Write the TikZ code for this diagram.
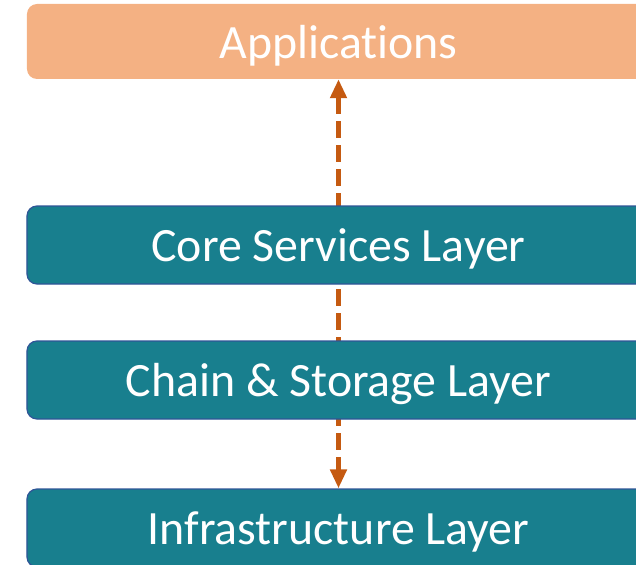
\documentclass[tikz,border=0pt]{standalone}
\usepackage{fontspec}
\setmainfont[RawFeature=-liga]{Carlito}
\usetikzlibrary{arrows.meta,backgrounds}
\definecolor{appfill}{HTML}{F4B183}
\definecolor{layerfill}{HTML}{187F8E}
\definecolor{layerline}{HTML}{2F5597}
\definecolor{linkcol}{HTML}{C55A11}
\begin{document}
\begin{tikzpicture}[x=1bp,y=-1bp,
  box/.style={rounded corners=10bp, minimum width=623bp, inner sep=0pt,
    text=white, text depth=0pt, font=\fontsize{48}{50}\selectfont},
  appbox/.style={box, fill=appfill, minimum height=75bp},
  layerbox/.style={box, fill=layerfill, draw=layerline, line width=1.2bp,
    minimum height=78bp},
  link/.style={draw=linkcol, line width=4.8bp, dash pattern=on 17bp off 7bp,
    {Triangle[width=16bp,length=19bp]}-{Triangle[width=16bp,length=19bp]}}]
  \useasboundingbox (0,0) rectangle (636,565);
  \clip (0,0) rectangle (636,565);

  % stacked layers
  \node[appbox]   (app)   at (338.5, 41.5) {Applications};
  \node[layerbox] (core)  at (338.5, 245)  {Core Services Layer};
  \node[layerbox] (chain) at (338.5, 380)  {Chain \& Storage Layer};
  \node[layerbox] (infra) at (338.5, 528)  {Infrastructure Layer};

  % link running behind the middle layers
  \begin{scope}[on background layer]
    \draw[link] (app.south) -- (infra.north);
  \end{scope}
\end{tikzpicture}
\end{document}
